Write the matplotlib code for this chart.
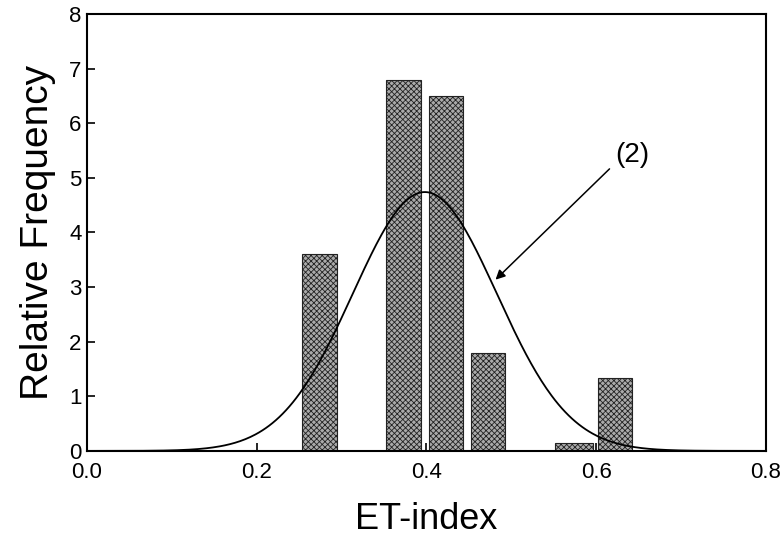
import numpy as np
import matplotlib
matplotlib.use("Agg")
import matplotlib.pyplot as plt

# du lieu doc tu hinh
bar_x = [0.274, 0.373, 0.423, 0.473, 0.574, 0.622]
bar_h = [3.6, 6.8, 6.5, 1.8, 0.15, 1.33]
bar_w = [0.041, 0.041, 0.041, 0.040, 0.045, 0.040]

# duong phan bo chuan (2)
mu = 0.398
sigma = 0.085
peak = 4.74

plt.rcParams['font.family'] = ['Liberation Sans', 'DejaVu Sans']
plt.rcParams['hatch.color'] = '#333333'
plt.rcParams['hatch.linewidth'] = 0.6

fig = plt.figure(figsize=(7.84, 5.4), dpi=100)
ax = fig.add_axes([0.111, 0.165, 0.866, 0.809])

ax.bar(bar_x, bar_h, width=bar_w, color='#aaaaaa', edgecolor='#222222',
       linewidth=0.8, hatch='xxxxxx')

xs = np.linspace(0.0, 0.8, 400)
ys = peak * np.exp(-(xs - mu) ** 2 / (2 * sigma ** 2))
ax.plot(xs, ys, color='black', linewidth=1.3)

ax.annotate('', xy=(0.479, 3.10), xytext=(0.618, 5.2),
            arrowprops=dict(arrowstyle='-|>', color='black', lw=1.1,
                            mutation_scale=14))
ax.text(0.643, 5.42, '(2)', fontsize=20, ha='center', va='center')

ax.set_xlim(0.0, 0.8)
ax.set_ylim(0, 8)
ax.set_xticks([0.0, 0.2, 0.4, 0.6, 0.8])
ax.set_xticklabels(['0.0', '0.2', '0.4', '0.6', '0.8'])
ax.set_yticks(range(0, 9))
ax.tick_params(direction='in', length=6, width=1.2, labelsize=16)
ax.tick_params(axis='x', pad=8)
ax.tick_params(axis='y', pad=4)
for s in ax.spines.values():
    s.set_linewidth(1.5)

ax.set_xlabel('ET-index', fontsize=26, labelpad=14)
ax.set_ylabel('Relative Frequency', fontsize=28, labelpad=9)

fig.savefig('out.png', dpi=100)
